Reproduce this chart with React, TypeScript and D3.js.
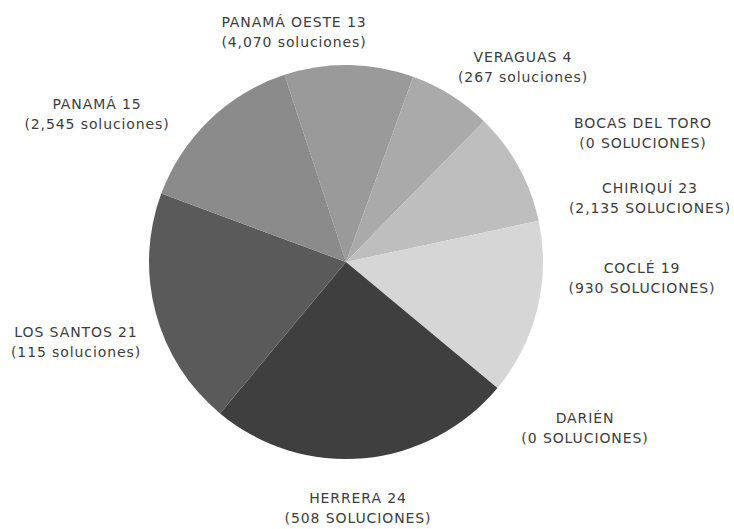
import React from "react";
import * as d3 from "d3";

// ---- data ----
const regions = ["PANAMÁ OESTE 13", "VERAGUAS 4", "BOCAS DEL TORO", "CHIRIQUÍ 23", "COCLÉ 19", "DARIÉN", "HERRERA 24", "LOS SANTOS 21", "PANAMÁ 15"];
const solutionLabels = ["(4,070 soluciones)", "(267 soluciones)", "(0 SOLUCIONES)", "(2,135 SOLUCIONES)", "(930 SOLUCIONES)", "(0 SOLUCIONES)", "(508 SOLUCIONES)", "(115 soluciones)", "(2,545 soluciones)"];
// slice shares (percent of the circle)
const shares = [10.6, 6.8, 0, 9.3, 14.4, 0, 25.0, 19.6, 14.3];

// ---- styles / layout ----
const fills = ["#9a9a9a", "#aaaaaa", "#b4b4b4", "#bebebe", "#d6d6d6", "#d6d6d6", "#3f3f3f", "#5a5a5a", "#8b8b8b"];
// label anchors relative to the pie centre (line-1 cap-centre)
const labelOffsets: [number, number][] = [
  [-52, -240], [177, -205], [297, -139], [304, -74], [296, 6],
  [239, 156], [12, 236], [-270, 70], [-249, -158],
];

const W = 734;
const H = 529;
const cx = 346;
const cy = 262;
const R = 197;
const startDeg = -18.2;

export default function App() {
  React.useEffect(() => {
    document.body.style.margin = "0";
  }, []);

  const pie = d3
    .pie<number>()
    .sort(null)
    .value((d) => d)
    .startAngle((startDeg * Math.PI) / 180)
    .endAngle((startDeg * Math.PI) / 180 + 2 * Math.PI);
  const arcs = pie(shares);
  const arcGen = d3.arc<d3.PieArcDatum<number>>().innerRadius(0).outerRadius(R);

  return (
    <svg width={W} height={H} style={{ position: "absolute", left: 0, top: 0, background: "#fff" }}>
      <g transform={`translate(${cx},${cy})`}>
        {arcs.map((a, i) =>
          a.value > 0 ? <path key={i} d={arcGen(a) || ""} fill={fills[i]} /> : null
        )}
      </g>
      <g
        fontFamily="'DejaVu Sans', sans-serif"
        fontSize={14}
        letterSpacing={0.9}
        fill="#3c3c3c"
        textAnchor="middle"
      >
        {regions.map((name, i) => {
          const [dx, dy] = labelOffsets[i];
          const x = cx + dx;
          const y = cy + dy + 5;
          return (
            <text key={i} x={x} y={y}>
              <tspan x={x} y={y}>{name}</tspan>
              <tspan x={x} y={y + 20}>{solutionLabels[i]}</tspan>
            </text>
          );
        })}
      </g>
    </svg>
  );
}
